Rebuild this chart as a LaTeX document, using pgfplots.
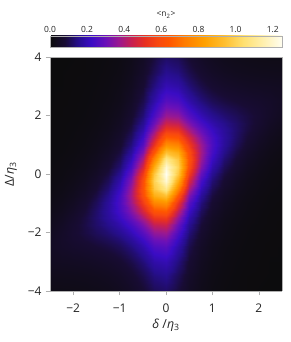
\documentclass[border=0pt]{standalone}
\usepackage{pgfplots}
\pgfplotsset{compat=1.18}
\usepackage{fontspec}
\setmainfont{Open Sans}
\definecolor{framegray}{RGB}{175,175,175}
\definecolor{labgray}{RGB}{35,35,35}
\pgfplotsset{
  colormap={sunset}{
    rgb255(0cm)=(12,12,12);
    rgb255(8cm)=(24,12,52);
    rgb255(15cm)=(38,14,140);
    rgb255(22cm)=(58,12,196);
    rgb255(30cm)=(106,16,184);
    rgb255(37cm)=(154,24,144);
    rgb255(44cm)=(200,32,80);
    rgb255(51cm)=(232,48,32);
    rgb255(58cm)=(248,72,16);
    rgb255(64cm)=(255,85,0);
    rgb255(72cm)=(255,122,0);
    rgb255(83cm)=(255,160,0);
    rgb255(94cm)=(255,191,48);
    rgb255(104cm)=(255,224,112);
    rgb255(115cm)=(255,240,176);
    rgb255(125cm)=(255,254,240)
  }
}
\begin{document}
\begin{tikzpicture}
\path[use as bounding box] (-50bp,-51bp) rectangle (241bp,291bp);
\begin{axis}[
  at={(0bp,0bp)}, anchor=south west,
  scale only axis, width=232bp, height=234bp,
  view={0}{90},
  xmin=-2.5, xmax=2.5, ymin=-4, ymax=4,
  colormap name=sunset,
  point meta min=0, point meta max=1.25,
  axis on top,
  xtick={-2,-1,0,1,2}, xticklabels={−2,−1,0,1,2},
  ytick={-4,-2,0,2,4}, yticklabels={−4,−2,0,2,4},
  tick pos=left, tick align=outside,
  major tick length=4bp,
  axis line style={framegray, line width=0.6bp},
  every tick/.style={framegray, line width=0.6bp},
  ticklabel style={font=\fontsize{12}{12}\selectfont, text=labgray},
  xticklabel style={yshift=-5bp},
  yticklabel style={xshift=-1bp},
  xlabel={\textit{δ} /\textit{η}\textsubscript{3}},
  ylabel={Δ/\textit{η}\textsubscript{3}},
  every axis x label/.style={at={(axis description cs:0.5,-0.145)}, anchor=center, font=\fontsize{12.5}{12.5}\selectfont, text=labgray},
  every axis y label/.style={at={(axis description cs:-0.168,0.5)}, anchor=center, rotate=90, font=\fontsize{12.5}{12.5}\selectfont, text=labgray},
  colorbar horizontal,
  colorbar style={
    at={(0.5,1.043)}, anchor=south,
    scale only axis, width=232bp, height=11bp,
    xticklabel pos=upper,
    xtick={0,0.2,0.4,0.6,0.8,1.0,1.2},
    xticklabel style={font=\fontsize{8.5}{8.5}\selectfont, text=labgray, /pgf/number format/.cd, fixed, fixed zerofill, precision=1, assume math mode=true},
    major tick length=0bp, minor tick length=0bp,
    axis line style={framegray},
    every tick/.style={draw=none},
    xlabel={<n\textsubscript{2}>},
    every axis x label/.style={at={(axis description cs:0.5,1)}, anchor=center, yshift=21bp, font=\fontsize{8.5}{8.5}\selectfont, text=labgray},
  },
]
\addplot3[surf, shader=interp] table[x=x, y=y, z=f, meta=f] {
x y f
-2.5 -4 0.021
-2.25 -4 0.021
-2 -4 0.022
-1.75 -4 0.024
-1.5 -4 0.027
-1.25 -4 0.031
-1 -4 0.040
-0.75 -4 0.053
-0.5 -4 0.076
-0.25 -4 0.107
0 -4 0.119
0.25 -4 0.086
0.5 -4 0.048
0.75 -4 0.027
1 -4 0.016
1.25 -4 0.010
1.5 -4 0.007
1.75 -4 0.005
2 -4 0.003
2.25 -4 0.002
2.5 -4 0.002

-2.5 -3.5 0.030
-2.25 -3.5 0.031
-2 -3.5 0.032
-1.75 -3.5 0.034
-1.5 -3.5 0.037
-1.25 -3.5 0.043
-1 -3.5 0.053
-0.75 -3.5 0.070
-0.5 -3.5 0.099
-0.25 -3.5 0.138
0 -3.5 0.152
0.25 -3.5 0.107
0.5 -3.5 0.060
0.75 -3.5 0.033
1 -3.5 0.019
1.25 -3.5 0.012
1.5 -3.5 0.008
1.75 -3.5 0.005
2 -3.5 0.004
2.25 -3.5 0.003
2.5 -3.5 0.002

-2.5 -3 0.042
-2.25 -3 0.044
-2 -3 0.046
-1.75 -3 0.049
-1.5 -3 0.054
-1.25 -3 0.061
-1 -3 0.074
-0.75 -3 0.096
-0.5 -3 0.133
-0.25 -3 0.183
0 -3 0.198
0.25 -3 0.138
0.5 -3 0.076
0.75 -3 0.041
1 -3 0.024
1.25 -3 0.015
1.5 -3 0.010
1.75 -3 0.007
2 -3 0.005
2.25 -3 0.003
2.5 -3 0.003

-2.5 -2.5 0.048
-2.25 -2.5 0.057
-2 -2.5 0.064
-1.75 -2.5 0.071
-1.5 -2.5 0.079
-1.25 -2.5 0.090
-1 -2.5 0.107
-0.75 -2.5 0.137
-0.5 -2.5 0.186
-0.25 -2.5 0.250
0 -2.5 0.266
0.25 -2.5 0.183
0.5 -2.5 0.099
0.75 -2.5 0.053
1 -2.5 0.030
1.25 -2.5 0.018
1.5 -2.5 0.012
1.75 -2.5 0.008
2 -2.5 0.006
2.25 -2.5 0.004
2.5 -2.5 0.003

-2.5 -2.25 0.046
-2.25 -2.25 0.059
-2 -2.25 0.071
-1.75 -2.25 0.082
-1.5 -2.25 0.094
-1.25 -2.25 0.108
-1 -2.25 0.130
-0.75 -2.25 0.165
-0.5 -2.25 0.222
-0.25 -2.25 0.297
0 -2.25 0.313
0.25 -2.25 0.213
0.5 -2.25 0.114
0.75 -2.25 0.061
1 -2.25 0.034
1.25 -2.25 0.021
1.5 -2.25 0.013
1.75 -2.25 0.009
2 -2.25 0.006
2.25 -2.25 0.005
2.5 -2.25 0.003

-2.5 -2 0.042
-2.25 -2 0.057
-2 -2 0.074
-1.75 -2 0.091
-1.5 -2 0.109
-1.25 -2 0.129
-1 -2 0.157
-0.75 -2 0.200
-0.5 -2 0.268
-0.25 -2 0.356
0 -2 0.371
0.25 -2 0.250
0.5 -2 0.133
0.75 -2 0.070
1 -2 0.040
1.25 -2 0.024
1.5 -2 0.015
1.75 -2 0.010
2 -2 0.007
2.25 -2 0.005
2.5 -2 0.004

-2.5 -1.75 0.036
-2.25 -1.75 0.051
-2 -1.75 0.071
-1.75 -1.75 0.094
-1.5 -1.75 0.121
-1.25 -1.75 0.150
-1 -1.75 0.188
-0.75 -1.75 0.242
-0.5 -1.75 0.325
-0.25 -1.75 0.429
0 -1.75 0.445
0.25 -1.75 0.297
0.5 -1.75 0.156
0.75 -1.75 0.082
1 -1.75 0.046
1.25 -1.75 0.027
1.5 -1.75 0.017
1.75 -1.75 0.011
2 -1.75 0.008
2.25 -1.75 0.006
2.5 -1.75 0.004

-2.5 -1.5 0.030
-2.25 -1.5 0.044
-2 -1.5 0.064
-1.75 -1.5 0.091
-1.5 -1.5 0.125
-1.25 -1.5 0.166
-1 -1.5 0.218
-0.75 -1.5 0.289
-0.5 -1.5 0.393
-0.25 -1.5 0.520
0 -1.5 0.536
0.25 -1.5 0.356
0.5 -1.5 0.186
0.75 -1.5 0.096
1 -1.5 0.053
1.25 -1.5 0.031
1.5 -1.5 0.020
1.75 -1.5 0.013
2 -1.5 0.009
2.25 -1.5 0.006
2.5 -1.5 0.005

-2.5 -1.25 0.025
-2.25 -1.25 0.037
-2 -1.25 0.055
-1.75 -1.25 0.082
-1.5 -1.25 0.121
-1.25 -1.25 0.172
-1 -1.25 0.241
-0.75 -1.25 0.335
-0.5 -1.25 0.469
-0.25 -1.25 0.628
0 -1.25 0.650
0.25 -1.25 0.429
0.5 -1.25 0.222
0.75 -1.25 0.114
1 -1.25 0.063
1.25 -1.25 0.037
1.5 -1.25 0.023
1.75 -1.25 0.015
2 -1.25 0.010
2.25 -1.25 0.007
2.5 -1.25 0.005

-2.5 -1 0.021
-2.25 -1 0.031
-2 -1 0.046
-1.75 -1 0.071
-1.5 -1 0.109
-1.25 -1 0.166
-1 -1 0.250
-0.75 -1 0.371
-0.5 -1 0.544
-0.25 -1 0.750
0 -1 0.785
0.25 -1 0.520
0.5 -1 0.268
0.75 -1 0.137
1 -1 0.074
1.25 -1 0.043
1.5 -1 0.027
1.75 -1 0.017
2 -1 0.012
2.25 -1 0.008
2.5 -1 0.006

-2.5 -0.75 0.017
-2.25 -0.75 0.025
-2 -0.75 0.038
-1.75 -0.75 0.059
-1.5 -0.75 0.094
-1.25 -0.75 0.150
-1 -0.75 0.241
-0.75 -0.75 0.385
-0.5 -0.75 0.603
-0.25 -0.75 0.871
0 -0.75 0.938
0.25 -0.75 0.628
0.5 -0.75 0.325
0.75 -0.75 0.165
1 -0.75 0.089
1.25 -0.75 0.051
1.5 -0.75 0.031
1.75 -0.75 0.020
2 -0.75 0.013
2.25 -0.75 0.009
2.5 -0.75 0.007

-2.5 -0.5 0.014
-2.25 -0.5 0.021
-2 -0.5 0.032
-1.75 -0.5 0.049
-1.5 -0.5 0.079
-1.25 -0.5 0.129
-1 -0.5 0.218
-0.75 -0.5 0.371
-0.5 -0.5 0.625
-0.25 -0.5 0.964
0 -0.5 1.089
0.25 -0.5 0.750
0.5 -0.5 0.393
0.75 -0.5 0.200
1 -0.5 0.107
1.25 -0.5 0.061
1.5 -0.5 0.037
1.75 -0.5 0.024
2 -0.5 0.016
2.25 -0.5 0.011
2.5 -0.5 0.008

-2.5 -0.25 0.012
-2.25 -0.25 0.017
-2 -0.25 0.026
-1.75 -0.25 0.040
-1.5 -0.25 0.065
-1.25 -0.25 0.108
-1 -0.25 0.188
-0.75 -0.25 0.335
-0.5 -0.25 0.603
-0.25 -0.25 1.000
0 -0.25 1.205
0.25 -0.25 0.871
0.5 -0.25 0.469
0.75 -0.25 0.242
1 -0.25 0.130
1.25 -0.25 0.074
1.5 -0.25 0.044
1.75 -0.25 0.028
2 -0.25 0.018
2.25 -0.25 0.013
2.5 -0.25 0.009

-2.5 0 0.010
-2.25 0 0.015
-2 0 0.022
-1.75 0 0.034
-1.5 0 0.054
-1.25 0 0.090
-1 0 0.157
-0.75 0 0.289
-0.5 0 0.544
-0.25 0 0.964
0 0 1.250
0.25 0 0.964
0.5 0 0.544
0.75 0 0.289
1 0 0.157
1.25 0 0.090
1.5 0 0.054
1.75 0 0.034
2 0 0.022
2.25 0 0.015
2.5 0 0.010

-2.5 0.25 0.009
-2.25 0.25 0.013
-2 0.25 0.018
-1.75 0.25 0.028
-1.5 0.25 0.044
-1.25 0.25 0.074
-1 0.25 0.130
-0.75 0.25 0.242
-0.5 0.25 0.469
-0.25 0.25 0.871
0 0.25 1.205
0.25 0.25 1.000
0.5 0.25 0.603
0.75 0.25 0.335
1 0.25 0.188
1.25 0.25 0.108
1.5 0.25 0.065
1.75 0.25 0.040
2 0.25 0.026
2.25 0.25 0.017
2.5 0.25 0.012

-2.5 0.5 0.008
-2.25 0.5 0.011
-2 0.5 0.016
-1.75 0.5 0.024
-1.5 0.5 0.037
-1.25 0.5 0.061
-1 0.5 0.107
-0.75 0.5 0.200
-0.5 0.5 0.393
-0.25 0.5 0.750
0 0.5 1.089
0.25 0.5 0.964
0.5 0.5 0.625
0.75 0.5 0.371
1 0.5 0.218
1.25 0.5 0.129
1.5 0.5 0.079
1.75 0.5 0.049
2 0.5 0.032
2.25 0.5 0.021
2.5 0.5 0.014

-2.5 0.75 0.007
-2.25 0.75 0.009
-2 0.75 0.013
-1.75 0.75 0.020
-1.5 0.75 0.031
-1.25 0.75 0.051
-1 0.75 0.089
-0.75 0.75 0.165
-0.5 0.75 0.325
-0.25 0.75 0.628
0 0.75 0.938
0.25 0.75 0.871
0.5 0.75 0.603
0.75 0.75 0.385
1 0.75 0.241
1.25 0.75 0.150
1.5 0.75 0.094
1.75 0.75 0.059
2 0.75 0.038
2.25 0.75 0.025
2.5 0.75 0.017

-2.5 1 0.006
-2.25 1 0.008
-2 1 0.012
-1.75 1 0.017
-1.5 1 0.027
-1.25 1 0.043
-1 1 0.074
-0.75 1 0.137
-0.5 1 0.268
-0.25 1 0.520
0 1 0.785
0.25 1 0.750
0.5 1 0.544
0.75 1 0.371
1 1 0.250
1.25 1 0.166
1.5 1 0.109
1.75 1 0.071
2 1 0.046
2.25 1 0.031
2.5 1 0.021

-2.5 1.25 0.005
-2.25 1.25 0.007
-2 1.25 0.010
-1.75 1.25 0.015
-1.5 1.25 0.023
-1.25 1.25 0.037
-1 1.25 0.063
-0.75 1.25 0.114
-0.5 1.25 0.222
-0.25 1.25 0.429
0 1.25 0.650
0.25 1.25 0.628
0.5 1.25 0.469
0.75 1.25 0.335
1 1.25 0.241
1.25 1.25 0.172
1.5 1.25 0.121
1.75 1.25 0.082
2 1.25 0.055
2.25 1.25 0.037
2.5 1.25 0.025

-2.5 1.5 0.005
-2.25 1.5 0.006
-2 1.5 0.009
-1.75 1.5 0.013
-1.5 1.5 0.020
-1.25 1.5 0.031
-1 1.5 0.053
-0.75 1.5 0.096
-0.5 1.5 0.186
-0.25 1.5 0.356
0 1.5 0.536
0.25 1.5 0.520
0.5 1.5 0.393
0.75 1.5 0.289
1 1.5 0.218
1.25 1.5 0.166
1.5 1.5 0.125
1.75 1.5 0.091
2 1.5 0.064
2.25 1.5 0.044
2.5 1.5 0.030

-2.5 1.75 0.004
-2.25 1.75 0.006
-2 1.75 0.008
-1.75 1.75 0.011
-1.5 1.75 0.017
-1.25 1.75 0.027
-1 1.75 0.046
-0.75 1.75 0.082
-0.5 1.75 0.156
-0.25 1.75 0.297
0 1.75 0.445
0.25 1.75 0.429
0.5 1.75 0.325
0.75 1.75 0.242
1 1.75 0.188
1.25 1.75 0.150
1.5 1.75 0.121
1.75 1.75 0.094
2 1.75 0.071
2.25 1.75 0.051
2.5 1.75 0.036

-2.5 2 0.004
-2.25 2 0.005
-2 2 0.007
-1.75 2 0.010
-1.5 2 0.015
-1.25 2 0.024
-1 2 0.040
-0.75 2 0.070
-0.5 2 0.133
-0.25 2 0.250
0 2 0.371
0.25 2 0.356
0.5 2 0.268
0.75 2 0.200
1 2 0.157
1.25 2 0.129
1.5 2 0.109
1.75 2 0.091
2 2 0.074
2.25 2 0.057
2.5 2 0.042

-2.5 2.25 0.003
-2.25 2.25 0.005
-2 2.25 0.006
-1.75 2.25 0.009
-1.5 2.25 0.013
-1.25 2.25 0.021
-1 2.25 0.034
-0.75 2.25 0.061
-0.5 2.25 0.114
-0.25 2.25 0.213
0 2.25 0.313
0.25 2.25 0.297
0.5 2.25 0.222
0.75 2.25 0.165
1 2.25 0.130
1.25 2.25 0.108
1.5 2.25 0.094
1.75 2.25 0.082
2 2.25 0.071
2.25 2.25 0.059
2.5 2.25 0.046

-2.5 2.5 0.003
-2.25 2.5 0.004
-2 2.5 0.006
-1.75 2.5 0.008
-1.5 2.5 0.012
-1.25 2.5 0.018
-1 2.5 0.030
-0.75 2.5 0.053
-0.5 2.5 0.099
-0.25 2.5 0.183
0 2.5 0.266
0.25 2.5 0.250
0.5 2.5 0.186
0.75 2.5 0.137
1 2.5 0.107
1.25 2.5 0.090
1.5 2.5 0.079
1.75 2.5 0.071
2 2.5 0.064
2.25 2.5 0.057
2.5 2.5 0.048

-2.5 3 0.003
-2.25 3 0.003
-2 3 0.005
-1.75 3 0.007
-1.5 3 0.010
-1.25 3 0.015
-1 3 0.024
-0.75 3 0.041
-0.5 3 0.076
-0.25 3 0.138
0 3 0.198
0.25 3 0.183
0.5 3 0.133
0.75 3 0.096
1 3 0.074
1.25 3 0.061
1.5 3 0.054
1.75 3 0.049
2 3 0.046
2.25 3 0.044
2.5 3 0.042

-2.5 3.5 0.002
-2.25 3.5 0.003
-2 3.5 0.004
-1.75 3.5 0.005
-1.5 3.5 0.008
-1.25 3.5 0.012
-1 3.5 0.019
-0.75 3.5 0.033
-0.5 3.5 0.060
-0.25 3.5 0.107
0 3.5 0.152
0.25 3.5 0.138
0.5 3.5 0.099
0.75 3.5 0.070
1 3.5 0.053
1.25 3.5 0.043
1.5 3.5 0.037
1.75 3.5 0.034
2 3.5 0.032
2.25 3.5 0.031
2.5 3.5 0.030

-2.5 4 0.002
-2.25 4 0.002
-2 4 0.003
-1.75 4 0.005
-1.5 4 0.007
-1.25 4 0.010
-1 4 0.016
-0.75 4 0.027
-0.5 4 0.048
-0.25 4 0.086
0 4 0.119
0.25 4 0.107
0.5 4 0.076
0.75 4 0.053
1 4 0.040
1.25 4 0.031
1.5 4 0.027
1.75 4 0.024
2 4 0.022
2.25 4 0.021
2.5 4 0.021
};
\end{axis}
\end{tikzpicture}
\end{document}
